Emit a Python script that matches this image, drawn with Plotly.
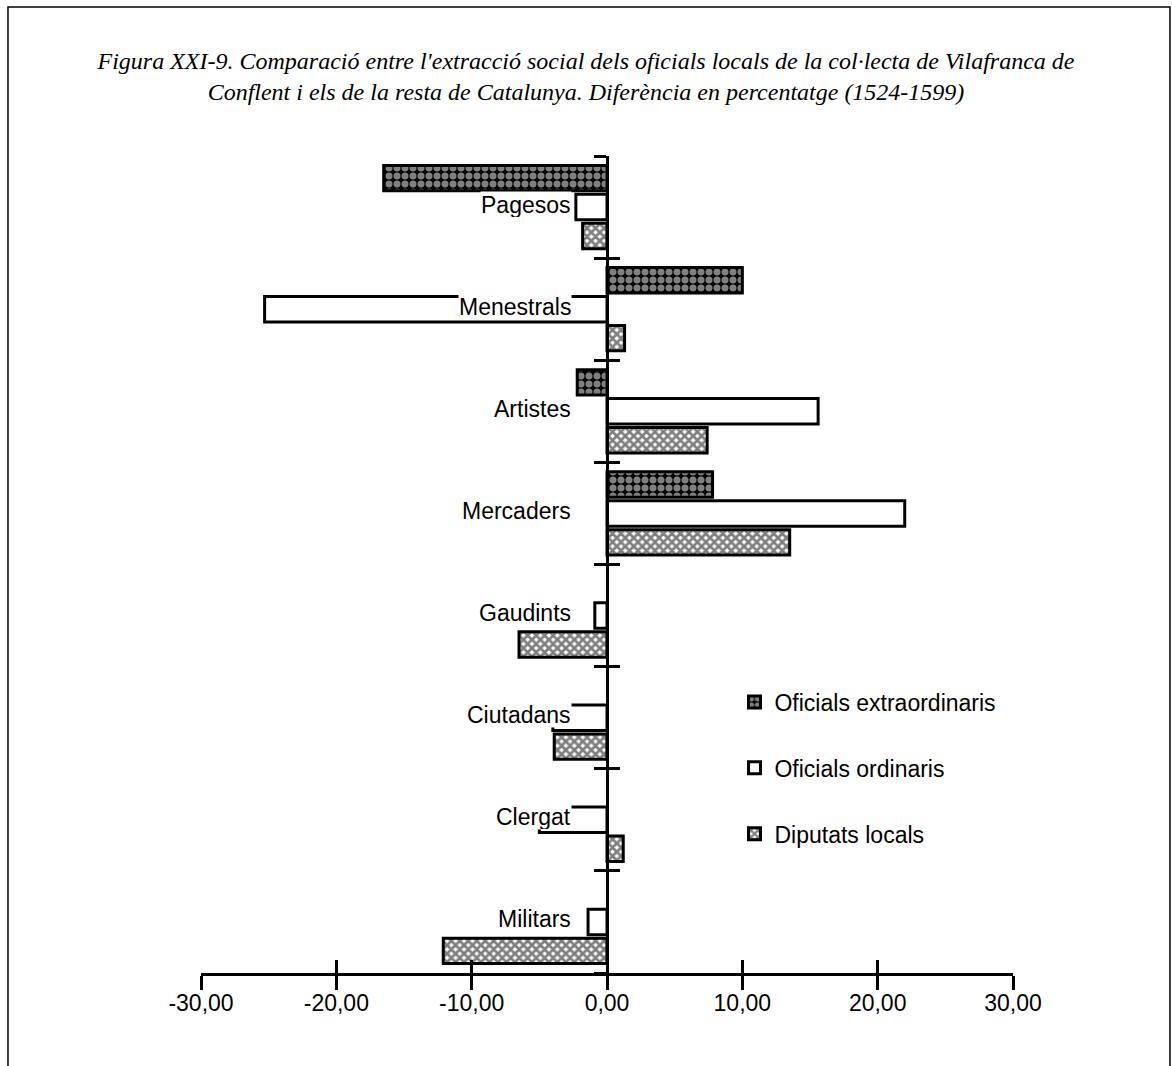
import plotly.graph_objects as go

categories = ["Pagesos", "Menestrals", "Artistes", "Mercaders",
              "Gaudints", "Ciutadans", "Clergat", "Militars"]
oficials_extraordinaris = [-16.5, 10.0, -2.2, 7.8, None, None, None, None]
oficials_ordinaris = [-2.3, -25.3, 15.6, 22.0, -0.9, -4.0, -5.0, -1.4]
diputats_locals = [-1.8, 1.3, 7.4, 13.5, -6.5, -3.9, 1.2, -12.1]

x_ticks = [-30, -20, -10, 0, 10, 20, 30]
x_ticktext = ["-30,00", "-20,00", "-10,00", "0,00", "10,00", "20,00", "30,00"]

title = ("Figura XXI-9. Comparació entre l'extracció social dels oficials locals "
         "de la col·lecta de Vilafranca de<br>Conflent i els de la resta de Catalunya. "
         "Diferència en percentatge (1524-1599)")

SANS = "Liberation Sans, Arial, sans-serif"
SERIF = "Liberation Serif, Times New Roman, serif"

y_pos = list(range(len(categories)))
boundaries = [i - 0.5 for i in range(len(categories) + 1)]

fig = go.Figure()

fig.add_trace(go.Bar(
    y=y_pos, x=oficials_extraordinaris, orientation="h",
    name="Oficials extraordinaris", legendgroup="a",
    marker=dict(color="black", line=dict(color="black", width=3),
                pattern=dict(shape=".", fgcolor="white", bgcolor="black",
                             size=8, solidity=0.6)),
))
fig.add_trace(go.Bar(
    y=y_pos, x=oficials_ordinaris, orientation="h",
    name="Oficials ordinaris", legendgroup="b",
    marker=dict(color="white", line=dict(color="black", width=3)),
))
fig.add_trace(go.Bar(
    y=y_pos, x=diputats_locals, orientation="h",
    name="Diputats locals", legendgroup="c",
    marker=dict(color="white", line=dict(color="black", width=3),
                pattern=dict(shape="x", fgcolor="black", bgcolor="white",
                             size=6, solidity=0.7)),
))

# invisible helpers so the overlaid tick-only axes get drawn
fig.add_trace(go.Scatter(x=[0], y=[0], xaxis="x2", yaxis="y", mode="markers",
                         marker=dict(opacity=0), showlegend=False, hoverinfo="skip"))
fig.add_trace(go.Scatter(x=[0], y=[0], xaxis="x", yaxis="y2", mode="markers",
                         marker=dict(opacity=0), showlegend=False, hoverinfo="skip"))

# category labels sit on a white box next to the vertical axis
for i, cat in enumerate(categories):
    fig.add_annotation(x=-2.6, y=i, xref="x", yref="y", text=cat,
                       showarrow=False, xanchor="right", yshift=3,
                       bgcolor="white", borderpad=0, height=25,
                       font=dict(family=SANS, size=23, color="black"))

# outer frame
fig.add_shape(type="rect", xref="paper", yref="paper",
              x0=-0.2377, x1=1.1933, y0=-0.2, y1=1.1824,
              line=dict(color="black", width=1.5), layer="below")

fig.update_layout(
    width=1172, height=1066,
    margin=dict(l=201, r=159, t=156, b=93),
    paper_bgcolor="white", plot_bgcolor="white",
    barmode="group", bargap=0.15, bargroupgap=0.12,
    title=dict(text="<i>" + title + "</i>", x=0.5, xref="container",
               y=1 - 69 / 1066, yanchor="top",
               font=dict(family=SERIF, size=24, color="black")),
    showlegend=True,
    legend=dict(x=0.657, y=0.358, xanchor="left", yanchor="top",
                traceorder="grouped", tracegroupgap=33,
                bgcolor="rgba(0,0,0,0)",
                font=dict(family=SANS, size=23, color="black")),
    xaxis=dict(range=[-30, 30], tickvals=x_ticks, ticktext=x_ticktext,
               ticks="outside", ticklen=14, tickwidth=3, tickcolor="black",
               ticklabelstandoff=-7,
               showline=True, linewidth=3, linecolor="black",
               showgrid=False, zeroline=False,
               tickfont=dict(family=SANS, size=23, color="black")),
    xaxis2=dict(range=[-30, 30], overlaying="x", anchor="y", side="bottom",
                tickvals=[t for t in x_ticks if t != 0],
                ticks="inside", ticklen=13, tickwidth=3, tickcolor="black",
                showticklabels=False, showgrid=False, zeroline=False),
    yaxis=dict(range=[7.5, -0.5], anchor="free", position=0.5,
               tickvals=boundaries, ticks="outside", ticklen=12, tickwidth=3,
               tickcolor="black", showticklabels=False,
               showline=True, linewidth=3, linecolor="black",
               showgrid=False, zeroline=False),
    yaxis2=dict(range=[7.5, -0.5], overlaying="y", anchor="free", position=0.5,
                tickvals=boundaries, ticks="inside", ticklen=12, tickwidth=3,
                tickcolor="black", showticklabels=False,
                showgrid=False, zeroline=False),
)

fig.write_html("out.html", config={"displayModeBar": False},
               post_script="document.body.style.margin='0';")
